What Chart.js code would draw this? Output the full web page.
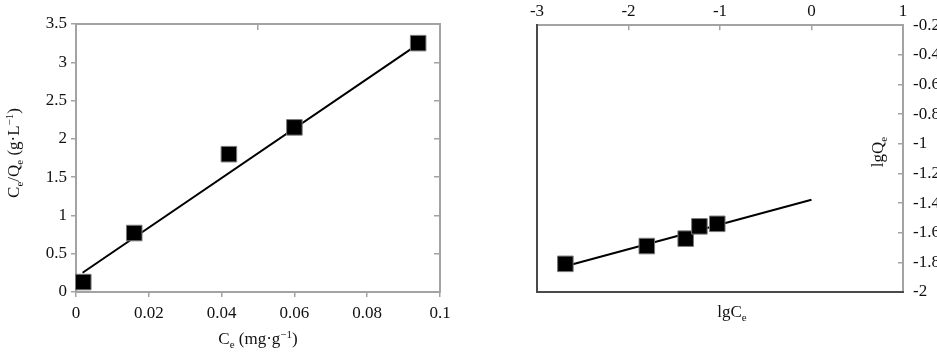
<!DOCTYPE html>
<html>
<head>
<meta charset="UTF-8">
<title>Isotherm fits</title>
<script src="https://cdn.jsdelivr.net/npm/chart.js@4.4.0/dist/chart.umd.min.js"></script>
<style>
  body { margin: 0; background: #fff; }
  #wrap { position: relative; width: 937px; height: 355px; overflow: hidden; }
  #leftChart { position: absolute; left: 0; top: 0; }
  #rightChart { position: absolute; left: 470px; top: 0; }
</style>
</head>
<body>
<div id="wrap">
  <canvas id="leftChart" width="470" height="355"></canvas>
  <canvas id="rightChart" width="467" height="355"></canvas>
</div>
<script>
// left panel: Langmuir, Ce vs Ce/Qe
const ceValues = [0.002, 0.016, 0.042, 0.060, 0.094];
const ceQeValues = [0.13, 0.77, 1.80, 2.15, 3.25];
const langFitX = [0.0018, 0.0927];
const langFitY = [0.252, 3.195];

// right panel: Freundlich, lgCe vs lgQe
const lgCeValues = [-2.69, -1.80, -1.375, -1.225, -1.03];
const lgQeValues = [-1.81, -1.69, -1.64, -1.557, -1.54];
const freuFitX = [-2.62, 0];
const freuFitY = [-1.814, -1.378];

const serif = 'Liberation Serif';
const txt = '#111';
const light = '#a3a3a3';
const dark = '#4a4a4a';
const fmt = v => String(+Number(v).toFixed(2));

function pts(xs, ys) {
  return xs.map((x, i) => ({ x: x, y: ys[i] }));
}

// draws a label with sub/superscripts; mode 1 = sub, 2 = sup
function drawRich(ctx, parts, cx, cy, rot) {
  const size = 17;
  const fontFor = m => (m ? 11 : size) + 'px "' + serif + '"';
  ctx.save();
  ctx.translate(cx, cy);
  ctx.rotate(rot);
  ctx.fillStyle = txt;
  ctx.textBaseline = 'middle';
  ctx.textAlign = 'left';
  let w = 0;
  parts.forEach(([t, m]) => { ctx.font = fontFor(m); w += ctx.measureText(t).width; });
  let x = -w / 2;
  parts.forEach(([t, m]) => {
    ctx.font = fontFor(m);
    const dy = m === 1 ? 5 : m === 2 ? -5 : 0;
    ctx.fillText(t, x, dy);
    x += ctx.measureText(t).width;
  });
  ctx.restore();
}

const titles = {
  id: 'richTitles',
  afterDraw(chart, args, opts) {
    opts.items.forEach(it => drawRich(chart.ctx, it.parts, it.x, it.y, it.rot));
  }
};

function markers(data) {
  return {
    data: data,
    backgroundColor: '#000',
    borderColor: '#7a7a7a',
    borderWidth: 1,
    pointStyle: 'rect',
    pointRadius: 11,
    pointHoverRadius: 11,
    clip: false
  };
}

function fitLine(data) {
  return {
    data: data,
    showLine: true,
    borderColor: '#000',
    borderWidth: 2,
    pointRadius: 0,
    pointHoverRadius: 0
  };
}

const tickFont = { family: serif, size: 17 };

new Chart(document.getElementById('leftChart'), {
  type: 'scatter',
  data: {
    datasets: [
      markers(pts(ceValues, ceQeValues)),
      fitLine(pts(langFitX, langFitY))
    ]
  },
  options: {
    responsive: false,
    animation: false,
    layout: { padding: 0 },
    plugins: {
      legend: { display: false },
      tooltip: { enabled: false },
      richTitles: {
        items: [
          { parts: [['C', 0], ['e', 1], [' (mg\u00b7g', 0], ['\u22121', 2], [')', 0]], x: 258, y: 340, rot: 0 },
          { parts: [['C', 0], ['e', 1], ['/Q', 0], ['e', 1], [' (g\u00b7L', 0], ['\u22121', 2], [')', 0]], x: 15, y: 153, rot: -Math.PI / 2 }
        ]
      }
    },
    scales: {
      x: {
        type: 'linear', position: 'bottom', min: 0, max: 0.1,
        ticks: { stepSize: 0.02, padding: 6, color: txt, font: tickFont, callback: fmt, maxRotation: 0, autoSkip: false },
        grid: { drawOnChartArea: false, tickLength: 5, color: light, lineWidth: 1.5 },
        border: { color: light, width: 2 },
        afterFit: s => { s.height = 63; }
      },
      y: {
        type: 'linear', position: 'left', min: 0, max: 3.5,
        ticks: { stepSize: 0.5, padding: 4, color: txt, font: tickFont, callback: fmt, autoSkip: false },
        grid: { drawOnChartArea: false, tickLength: 5, color: light, lineWidth: 1.5 },
        border: { color: light, width: 2 },
        afterFit: s => { s.width = 76; }
      },
      x2: {
        type: 'linear', position: 'top', min: 0, max: 0.1,
        ticks: { stepSize: 0.05, display: false },
        grid: { drawOnChartArea: false, tickLength: -6, color: light, lineWidth: 1.5 },
        border: { color: light, width: 2 },
        afterFit: s => { s.height = 24; }
      },
      y2: {
        type: 'linear', position: 'right', min: 0, max: 3.5,
        ticks: { stepSize: 0.5, display: false },
        grid: { drawOnChartArea: false, tickLength: -6, color: light, lineWidth: 1.5 },
        border: { color: light, width: 2 },
        afterFit: s => { s.width = 30; }
      }
    }
  },
  plugins: [titles]
});

new Chart(document.getElementById('rightChart'), {
  type: 'scatter',
  data: {
    datasets: [
      markers(pts(lgCeValues, lgQeValues)),
      fitLine(pts(freuFitX, freuFitY))
    ]
  },
  options: {
    responsive: false,
    animation: false,
    layout: { padding: 0 },
    plugins: {
      legend: { display: false },
      tooltip: { enabled: false },
      richTitles: {
        items: [
          { parts: [['lgC', 0], ['e', 1]], x: 262, y: 313, rot: 0 },
          { parts: [['lgQ', 0], ['e', 1]], x: 409, y: 152, rot: -Math.PI / 2 }
        ]
      }
    },
    scales: {
      x: {
        type: 'linear', position: 'top', min: -3, max: 1,
        ticks: { stepSize: 1, padding: 8, color: txt, font: tickFont, callback: fmt, maxRotation: 0, autoSkip: false },
        grid: { drawOnChartArea: false, tickLength: -5, color: light, lineWidth: 1.5 },
        border: { color: light, width: 2 },
        afterFit: s => { s.height = 24; }
      },
      y: {
        type: 'linear', position: 'right', min: -2, max: -0.2,
        ticks: { stepSize: 0.2, padding: 15, color: txt, font: tickFont, callback: fmt, autoSkip: false },
        grid: { drawOnChartArea: false, tickLength: -5, color: light, lineWidth: 1.5 },
        border: { color: light, width: 2 },
        afterFit: s => { s.width = 34; }
      },
      x2: {
        type: 'linear', position: 'bottom', min: -3, max: 1,
        ticks: { display: false },
        grid: { drawOnChartArea: false, drawTicks: false },
        border: { color: dark, width: 2 },
        afterFit: s => { s.height = 63; }
      },
      y2: {
        type: 'linear', position: 'left', min: -2, max: -0.2,
        ticks: { display: false },
        grid: { drawOnChartArea: false, drawTicks: false },
        border: { color: dark, width: 2 },
        afterFit: s => { s.width = 67; }
      }
    }
  },
  plugins: [titles]
});
</script>
</body>
</html>
